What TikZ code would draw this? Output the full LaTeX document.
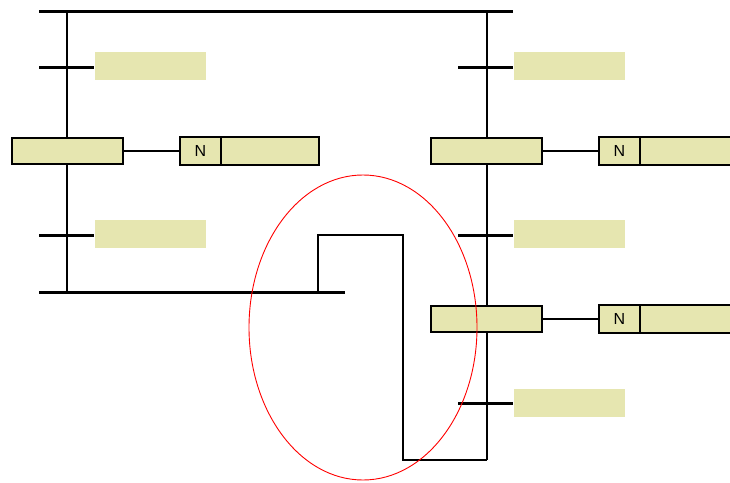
\documentclass[tikz,border=0pt]{standalone}
\usepackage{fontspec}
\setmainfont{Liberation Sans}
\definecolor{lbl}{HTML}{E6E6B0}
\begin{document}
\begin{tikzpicture}[x=1pt,y=-1pt,
  stepbox/.style={draw=black,line width=1.3pt,fill=lbl,minimum width=111pt,minimum height=26pt,inner sep=0pt,outer sep=0pt},
  actn/.style={draw=black,line width=1.3pt,fill=lbl,minimum width=41pt,minimum height=28pt,inner sep=0pt,outer sep=0pt,font=\fontsize{16}{18}\selectfont},
  acttxt/.style={draw=black,line width=1.3pt,fill=lbl,minimum width=120pt,minimum height=28pt,inner sep=0pt,outer sep=0pt},
  lblbox/.style={fill=lbl,minimum width=111pt,minimum height=28pt,inner sep=0pt,outer sep=0pt},
  bar/.style={line width=3pt},
  ln/.style={line width=1.2pt}]
\useasboundingbox (0,0) rectangle (730,482);
\clip (0,0) rectangle (730,482);
% coordinates
\coordinate (tl) at (39,11); \coordinate (tr) at (513,11);
\coordinate (lt) at (67,11); \coordinate (rt) at (487,11);
\coordinate (lb) at (67,292); \coordinate (rb) at (487,460);
\coordinate (bl) at (39,292); \coordinate (br) at (345,292);
\coordinate (j1) at (318,292); \coordinate (j2) at (318,235);
\coordinate (j3) at (403,235); \coordinate (j4) at (403,460);
% vertical lines
\draw[ln] (lt) -- (lb);
\draw[ln] (rt) -- (rb);
% top and bottom bars
\draw[bar] (tl) -- (tr);
\draw[bar] (bl) -- (br);
% jump
\draw[ln] (j1) -- (j2) -- (j3) -- (j4) -- (rb);
% transitions left
\coordinate (t1a) at (39,67); \coordinate (t1b) at (94,67);
\coordinate (t2a) at (39,235); \coordinate (t2b) at (94,235);
\draw[bar] (t1a) -- (t1b);
\draw[bar] (t2a) -- (t2b);
\node[lblbox,anchor=west] (l1) at (95,66) {};
\node[lblbox,anchor=west] (l2) at (95,234) {};
% transitions right
\coordinate (t3a) at (458,67); \coordinate (t3b) at (513,67);
\coordinate (t4a) at (458,235); \coordinate (t4b) at (513,235);
\coordinate (t5a) at (458,403); \coordinate (t5b) at (513,403);
\draw[bar] (t3a) -- (t3b);
\draw[bar] (t4a) -- (t4b);
\draw[bar] (t5a) -- (t5b);
\node[lblbox,anchor=west] (l3) at (514,66) {};
\node[lblbox,anchor=west] (l4) at (514,234) {};
\node[lblbox,anchor=west] (l5) at (514,403) {};
% steps
\node[stepbox,anchor=west] (s1) at (12,151) {};
\node[actn,anchor=west] (a1) at (180,151) {N};
\node[acttxt,anchor=west,minimum width=98pt] (b1) at (a1.east) {};
\draw[ln] (s1) -- (a1);
\node[stepbox,anchor=west] (s2) at (431,151) {};
\node[actn,anchor=west] (a2) at (599,151) {N};
\node[acttxt,anchor=west] (b2) at (a2.east) {};
\draw[ln] (s2) -- (a2);
\node[stepbox,anchor=west] (s3) at (431,319) {};
\node[actn,anchor=west] (a3) at (599,319) {N};
\node[acttxt,anchor=west] (b3) at (a3.east) {};
\draw[ln] (s3) -- (a3);
% red ellipse
\draw[red,line width=0.9pt] (363,327.5) ellipse [x radius=114, y radius=152.5];
\end{tikzpicture}
\end{document}
